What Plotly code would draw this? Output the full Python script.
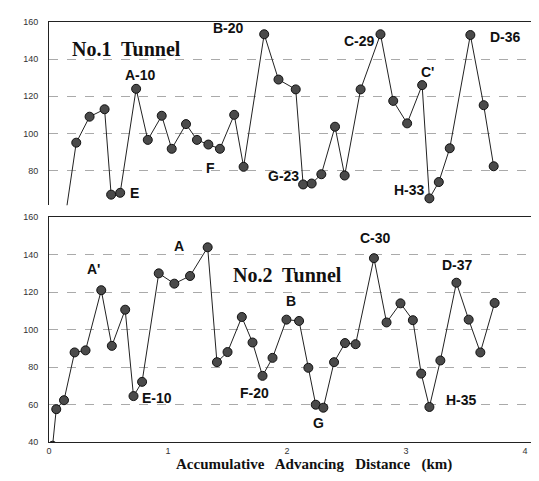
import plotly.graph_objects as go

# No.1 Tunnel (top panel); first point lies below the visible range
dist1 = [0.10, 0.229, 0.341, 0.467, 0.522, 0.598, 0.732, 0.830, 0.947, 1.031, 1.151, 1.243,
         1.339, 1.436, 1.556, 1.635, 1.808, 1.928, 2.073, 2.135, 2.207, 2.288, 2.403, 2.484,
         2.618, 2.785, 2.892, 3.009, 3.135, 3.196, 3.275, 3.367, 3.540, 3.652, 3.736]
val1 = [39, 95, 109, 113, 67, 68, 124, 96.5, 109.5, 91.7, 105, 96.5,
        94, 91.7, 110, 82, 153.4, 129, 123.7, 72.5, 73, 78, 103.6, 77.3,
        123.7, 153.4, 117.5, 105.4, 126, 65, 73.8, 92, 153, 115.2, 82.3]

# No.2 Tunnel (bottom panel)
dist2 = [0.03, 0.061, 0.126, 0.215, 0.307, 0.439, 0.528, 0.640, 0.710, 0.782, 0.922, 1.053,
         1.185, 1.333, 1.411, 1.500, 1.620, 1.710, 1.794, 1.878, 1.995, 2.101, 2.179, 2.241,
         2.305, 2.395, 2.487, 2.576, 2.730, 2.836, 2.953, 3.057, 3.127, 3.196, 3.288, 3.423,
         3.526, 3.624, 3.744]
val2 = [38, 57.5, 62.3, 87.8, 88.9, 121, 91.3, 110.6, 64.5, 72.1, 130, 124.5,
        128.6, 143.9, 82.6, 88, 106.7, 93.1, 75.3, 84.9, 105.3, 104.6, 79.6, 59.9,
        58.3, 82.6, 92.8, 92.2, 138.1, 103.8, 114, 105, 76.5, 58.7, 83.5, 125,
        105.3, 87.8, 114.2]

labels1 = ["A-10", "E", "F", "B-20", "G-23", "C-29", "C'", "H-33", "D-36"]
lab1_x = [0.771, 0.721, 1.358, 1.509, 1.970, 2.608, 3.178, 3.027, 3.832]
lab1_y = [131.2, 67.7, 81.6, 156.8, 76.8, 149.9, 133.3, 69.3, 152.0]

labels2 = ["A'", "A", "E-10", "F-20", "B", "G", "C-30", "D-37", "H-35"]
lab2_x = [0.377, 1.090, 0.906, 1.727, 2.029, 2.264, 2.742, 3.429, 3.463]
lab2_y = [132.5, 144.7, 63.3, 65.9, 115.1, 50.1, 148.9, 134.6, 62.2]

x_ticks = [0, 1, 2, 3, 4]
y_ticks = [40, 60, 80, 100, 120, 140, 160]

marker = dict(size=9, color="#4a4a4a", line=dict(color="#111", width=1))
line = dict(color="#222", width=1)

fig = go.Figure()
fig.add_trace(go.Scatter(x=dist2, y=val2, mode="lines+markers", marker=marker, line=line,
                         xaxis="x", yaxis="y", showlegend=False))
fig.add_trace(go.Scatter(x=dist1, y=val1, mode="lines+markers", marker=marker, line=line,
                         xaxis="x2", yaxis="y2", showlegend=False))

lab_font = dict(family="Liberation Sans, Arial", size=14, color="#111")
ann = []
for t, x, y in zip(labels1, lab1_x, lab1_y):
    ann.append(dict(text="<b>%s</b>" % t, x=x, y=y, xref="x2", yref="y2", showarrow=False, font=lab_font))
for t, x, y in zip(labels2, lab2_x, lab2_y):
    ann.append(dict(text="<b>%s</b>" % t, x=x, y=y, xref="x", yref="y", showarrow=False, font=lab_font))
serif = dict(family="Liberation Serif, Times New Roman", size=20, color="#111")
ann.append(dict(text="<b>No.1  Tunnel</b>", x=0.654, y=145.6, xref="x2", yref="y2", showarrow=False, font=serif))
ann.append(dict(text="<b>No.2  Tunnel</b>", x=2.004, y=129.3, xref="x", yref="y", showarrow=False, font=serif))
ann.append(dict(text="<b>Accumulative   Advancing   Distance   (km)</b>",
                x=(307 - 41) / 489, y=(434 - 467) / 424, xref="paper", yref="paper",
                showarrow=False, font=dict(family="Liberation Serif, Times New Roman", size=15, color="#111")))

tick_font = dict(family="Liberation Sans, Arial", size=9, color="#333")
grid = dict(showgrid=True, gridcolor="#aaa", griddash="dash", gridwidth=1)

fig.update_layout(
    width=539, height=481,
    margin=dict(l=41, r=9, t=10, b=47),
    paper_bgcolor="white", plot_bgcolor="white",
    annotations=ann,
    xaxis=dict(range=[0, 4.1], tickvals=x_ticks, ticktext=[str(v) for v in x_ticks],
               showline=True, linecolor="#222", linewidth=1, mirror=True, showgrid=False,
               zeroline=False, tickfont=tick_font, ticks="", ticklen=0, anchor="y"),
    yaxis=dict(domain=[0, 0.5354], range=[40, 160], tickvals=y_ticks,
               showline=True, linecolor="#222", linewidth=1, mirror=True,
               zeroline=False, tickfont=tick_font, ticks="", ticklen=0,
               ticklabelstandoff=8, **grid),
    xaxis2=dict(range=[0, 4.1], anchor="y2", side="top", showline=True, linecolor="#222",
                linewidth=1, showticklabels=False, showgrid=False, zeroline=False, ticks=""),
    yaxis2=dict(domain=[0.5637, 1], range=[61.3, 160], tickvals=y_ticks[2:], anchor="x2",
                showline=True, linecolor="#222", linewidth=1, mirror=True,
                zeroline=False, tickfont=tick_font, ticks="", ticklen=0,
                ticklabelstandoff=8, **grid),
)

fig.write_html("out.html")
